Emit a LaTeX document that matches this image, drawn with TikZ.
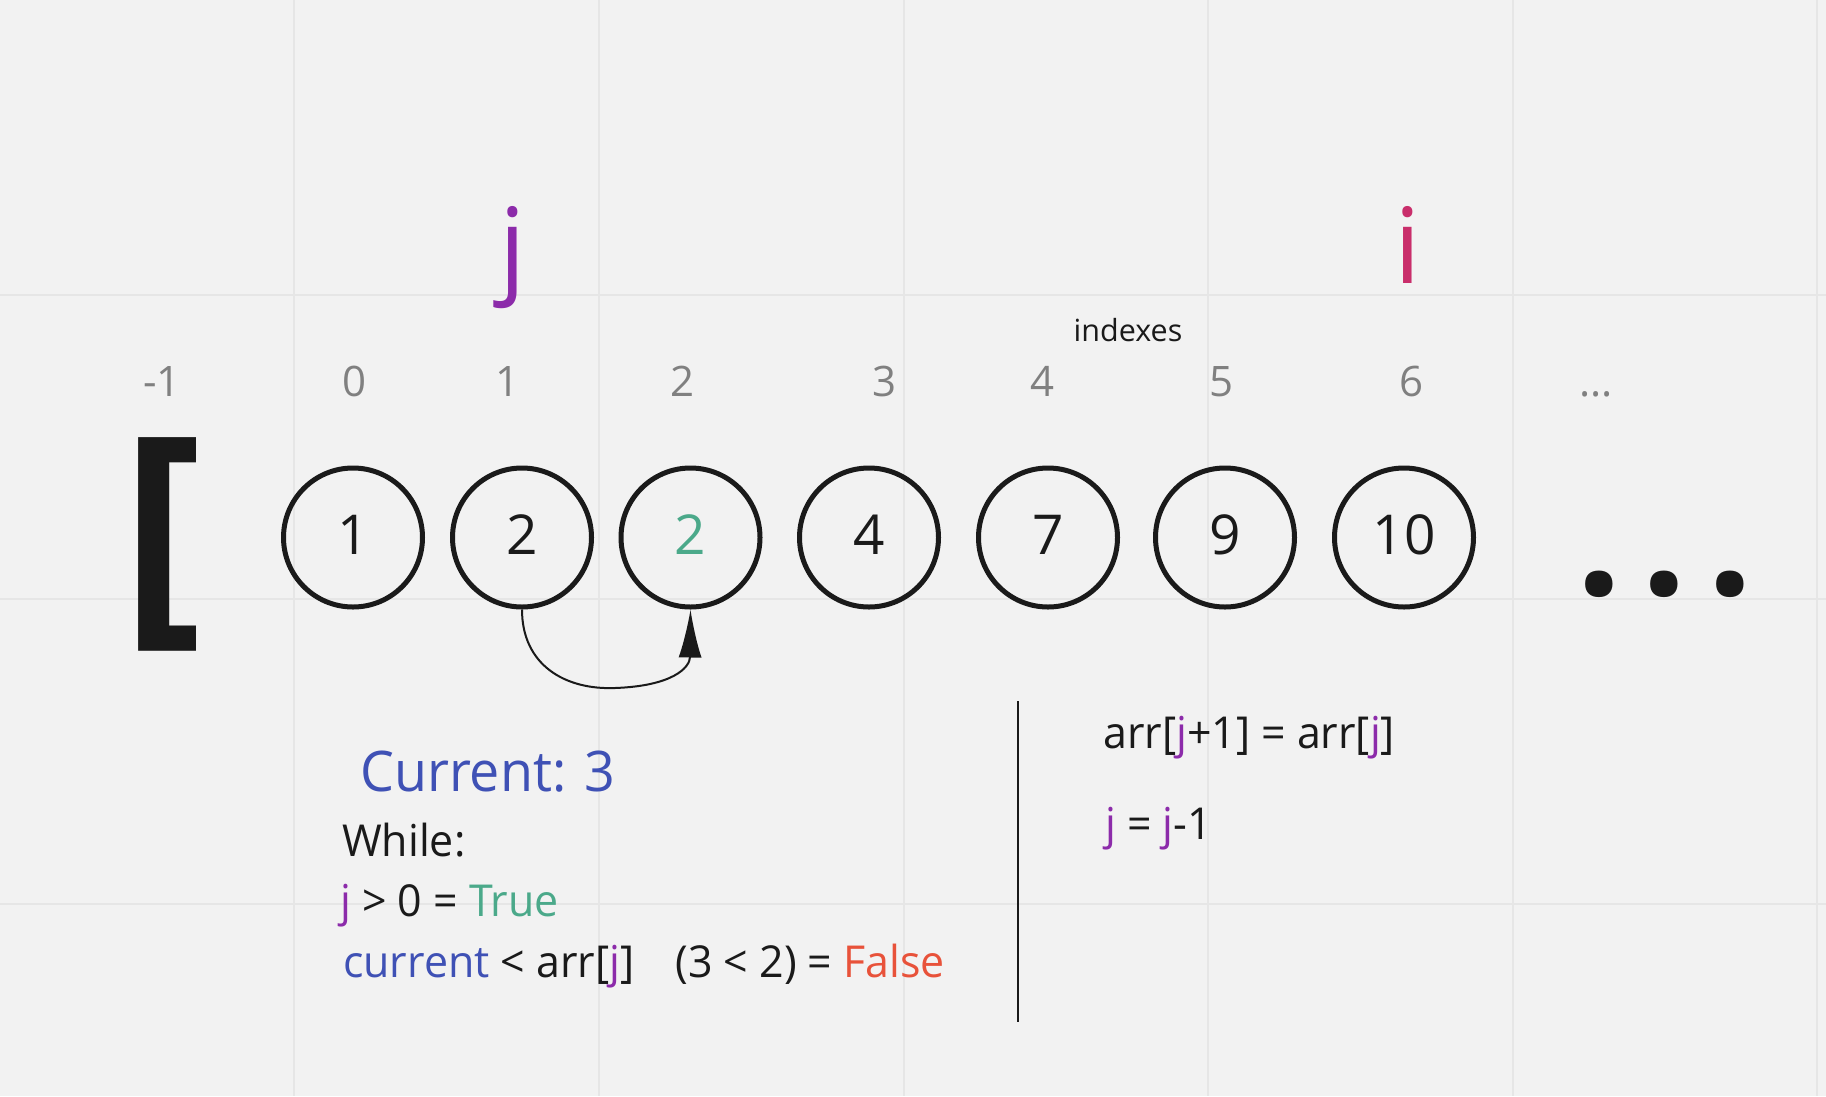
\documentclass[tikz,border=0pt]{standalone}
\usepackage{fontspec}
\setmainfont{Open Sans}
\newfontfamily\condfont{Open Sans}[FakeStretch=0.96]
\newfontfamily\bodyfont{Open Sans}[FakeStretch=0.975]
\usetikzlibrary{arrows.meta}
\definecolor{bgcol}{HTML}{F2F2F2}
\definecolor{gridcol}{HTML}{E6E6E6}
\definecolor{ink}{HTML}{1A1A1A}
\definecolor{idxgray}{HTML}{808080}
\definecolor{jcol}{HTML}{8C2BAA}
\definecolor{icol}{HTML}{C92E6B}
\definecolor{okcol}{HTML}{4BA98A}
\definecolor{nocol}{HTML}{E8523A}
\definecolor{curcol}{HTML}{3F51B5}
\providecommand{\fs}[1]{\fontsize{#1}{#1}\selectfont}
\providecommand{\jj}{\textcolor{jcol}{j}}

\begin{document}
\begin{tikzpicture}[x=1pt,y=-1pt,
  gridline/.style={draw=gridcol, line width=2pt},
  cell/.style={circle, draw=ink, line width=5pt, minimum size=139pt, inner sep=0pt,
    text height=39pt, text depth=6pt, font=\fs{55}, text=ink},
  idx/.style={anchor=base, inner sep=0pt, text=idxgray, font=\fs{42}},
  txt/.style={anchor=base west, inner sep=0pt, text=ink, font=\bodyfont\fs{44}}]

% Background and grid
\fill[bgcol] (0,0) rectangle (1826,1096);
\useasboundingbox (0,0) rectangle (1826,1096);
\foreach \gx in {293.5,598.5,903.5,1208,1512.5,1817}
  \draw[gridline] (\gx,0) -- (\gx,1096);
\foreach \gy in {294.5,598.5,903.5}
  \draw[gridline] (0,\gy) -- (1826,\gy);

% Pointers
\node[anchor=base, inner sep=0pt, text=jcol, font=\fs{105}] (j) at (513,283) {j};
\node[anchor=base, inner sep=0pt, text=icol, font=\fs{105}] (i) at (1408,283) {i};
\node[anchor=base, inner sep=0pt, text=ink, font=\fs{30.5}] (idxlabel) at (1128,341) {indexes};

% Indexes
\foreach \n/\ix in {-1/162,0/355,1/508,2/682,3/884,4/1042,5/1221,6/1411}
  \node[idx] (idx\n) at (\ix,396) {\n};
\node[idx] (idxmore) at (1596,396) {...};

% Array
\node[anchor=base west, inner sep=0pt, text=ink, font=\fs{245}\bfseries] (lb) at (121,612.5) {[};
\node[cell] (c0) at (353,537.5) {1};
\node[cell] (c1) at (522,537.5) {2};
\node[cell, text=okcol] (c2) at (690.5,537.5) {2};
\node[cell] (c3) at (869,537.5) {4};
\node[cell] (c4) at (1048,537.5) {7};
\node[cell] (c5) at (1225,537.5) {9};
\node[cell] (c6) at (1404,537.5) {10};
\node[anchor=base west, inner sep=0pt, text=ink, font=\fs{160}\bfseries] (more) at (1576,595) {.\hspace{20pt}.\hspace{20pt}.};

% Shift arrow
\draw[ink, line width=2pt, -{Latex[length=48pt,width=23pt]}] (c1.south)
  .. controls (522,665) and (565,690) .. (615,688)
  .. controls (672,686) and (690,668) .. (c2.south);

% Loop condition
\node[txt, font=\condfont\fs{56}, text=curcol] (cur) at (360,791.7) {Current: 3};
\node[txt] (while) at (342,856.7) {While:};
\node[txt] (cond1) at (340,916.7) {\jj{} > 0 = \textcolor{okcol}{True}};
\node[txt] (cond2) at (343,977.7) {\textcolor{curcol}{current} < arr[\jj]\hspace{41pt}(3 < 2) = \textcolor{nocol}{False}};

% Divider
\coordinate (divtop) at (1018,701);
\coordinate (divbot) at (1018,1022);
\draw[ink, line width=2.5pt] (divtop) -- (divbot);

% Loop body
\node[txt] (body1) at (1103,748.3) {arr[\jj+1] = arr[\jj]};
\node[txt] (body2) at (1105,839.3) {\jj{} = \jj-1};

\end{tikzpicture}
\end{document}
